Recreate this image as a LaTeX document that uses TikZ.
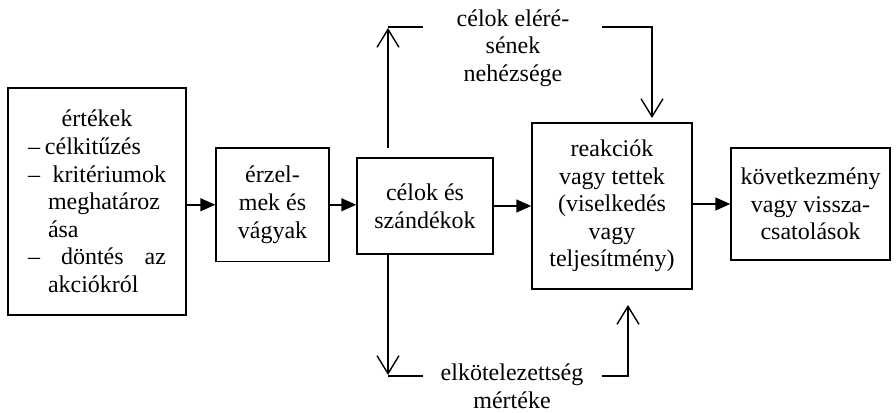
\documentclass[tikz,border=0pt]{standalone}
\usepackage{fontspec}
\setmainfont{Liberation Serif}
\usetikzlibrary{arrows.meta}
\newcommand{\itemline}[1]{\makebox[138pt][s]{#1}}
\newcommand{\contline}[1]{\hspace*{20pt}#1}
\begin{document}
\begin{tikzpicture}[x=1pt,y=-1pt,
  every node/.style={font=\fontsize{24}{27.6}\selectfont},
  box/.style={draw, line width=1.5pt, align=center, inner sep=0pt},
  link/.style={line width=1.5pt, -{Triangle[length=15pt,width=13pt]}},
  feed/.style={line width=1.4pt, -{Straight Barb[length=18pt,width=22pt]}},
  plain/.style={line width=1.4pt},
  lbl/.style={align=center, inner sep=0pt}]
\useasboundingbox (0,0) rectangle (896,412);

% main chain of boxes
\node[box, align=left, text width=138pt, minimum width=178pt, minimum height=227pt] (b1) at (97,201.5)
{\makebox[138pt]{értékek}\\%
\makebox[138pt][l]{–\hspace{5pt}célkitűzés}\\%
\itemline{–\hspace{12pt plus 1fil}kritériumok}\\%
\contline{meghatároz}\\%
\contline{ása}\\%
\itemline{–\hspace{12pt plus 1fil}döntés\hspace{12pt plus 1fil}az}\\%
\contline{akciókról}};
\node[box, minimum width=113pt, minimum height=113.5pt] (b2) at (272.5,204.75) {érzel-\\mek és\\vágyak};
\node[box, minimum width=136pt, minimum height=96pt] (b3) at (425,206) {célok és\\szándékok};
\node[box, minimum width=160pt, minimum height=166pt] (b4) at (612,206)
  {reakciók\\vagy tettek\\(viselkedés\\vagy\\teljesítmény)};
\node[box, minimum width=159pt, minimum height=112pt] (b5) at (810.5,204)
  {következmény\\vagy vissza-\\csatolások};

% side labels
\node[lbl] (diff) at (513,48) {célok eléré-\\sének\\nehézsége};
\node[lbl] (commit) at (512,386) {elkötelezettség\\mértéke};

% arrows along the chain
\draw[link] (b2.west -| b1.east) -- (b2.west);
\draw[link] (b2.east) -- (b2.east -| b3.west);
\draw[link] (b3.east) -- (b3.east -| b4.west);
\draw[link] (b4.east |- b5.west) -- (b5.west);

% branches leaving the goals box
\coordinate (upfoot) at (388,148);
\coordinate (uptop) at (388,28);
\coordinate (upend) at (423,27);
\draw[feed] (upfoot) -- (uptop);
\draw[plain] (388,27) -- (upend);

\coordinate (dnfoot) at (b3.south -| upfoot);
\coordinate (dnbot) at (388,375);
\coordinate (dnend) at (423,376);
\draw[feed] (dnfoot) -- (dnbot);
\draw[plain] (388,376) -- (dnend);

% inputs into the reactions box
\coordinate (rtstart) at (602,27);
\coordinate (rttip) at (652,118);
\draw[feed] (rtstart) -| (rttip);

\coordinate (rbstart) at (602,376);
\coordinate (rbtip) at (628,305);
\draw[feed] (rbstart) -| (rbtip);
\end{tikzpicture}
\end{document}
